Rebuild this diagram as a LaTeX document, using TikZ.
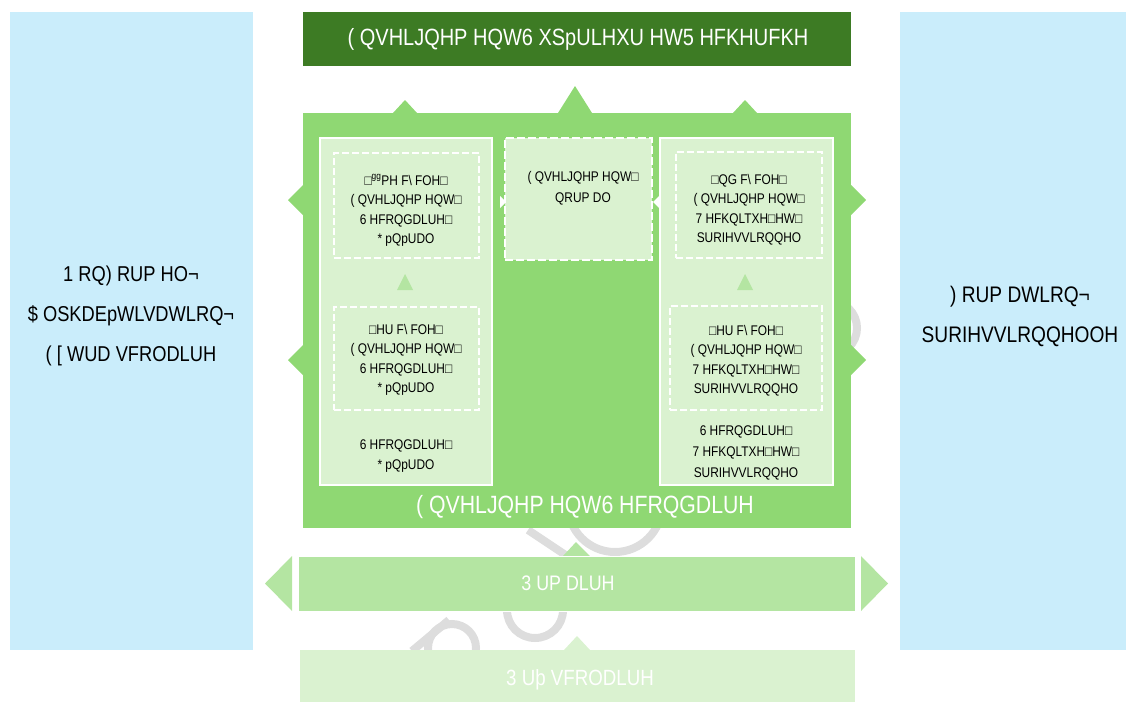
\documentclass[tikz,border=0pt]{standalone}
\usepackage{fontspec}
\setmainfont{Liberation Sans}[FakeStretch=0.85]
\definecolor{lblue}{RGB}{202,237,251}
\definecolor{dgreen}{RGB}{61,123,36}
\definecolor{mgreen}{RGB}{143,216,115}
\definecolor{pgreen}{RGB}{180,229,162}
\definecolor{lgreen}{RGB}{218,242,208}
\definecolor{wmark}{RGB}{221,221,221}
\begin{document}
\begin{tikzpicture}[x=1pt,y=-1pt,
  rbox/.style={inner sep=0pt, outer sep=0pt, draw=none},
  colbox/.style={rbox, fill=lgreen, draw=white, line width=1.5pt},
  dbox/.style={rbox, draw=white, line width=1.5pt, dash pattern=on 7pt off 3pt},
  big/.style={font=\fontsize{21.5}{40}\selectfont, align=center},
  small/.style={font=\fontsize{14}{19.5}\selectfont, align=center, text=black},
  wm/.style={draw=wmark, line width=8pt}]
\useasboundingbox (0,0) rectangle (1126,702);
% watermark
\draw[wm] (528,530) -- (567,556);
\draw[wm] (615,505) circle (47);
\draw[wm] (412,651) -- (449,620);
\draw[wm] (452,648) circle (24);
\draw[wm] (535,610) circle (28);
\draw[wm] (830,328) circle (27);
% side blue boxes
\node[rbox, fill=lblue, minimum width=243, minimum height=638] (lb) at (131.5,331) {};
\node[big] (lbt) at (131,316) {1 RQ) RUP HO¬\\\$ OSKDEpWLVDWLRQ¬\\( [ WUD VFRODLUH};
\node[rbox, fill=lblue, minimum width=226, minimum height=638] (rb) at (1013,331) {};
\node[big, font=\fontsize{22.5}{40}\selectfont] (rbt) at (1020,316) {) RUP DWLRQ¬\\SURIHVVLRQQHOOH};
% title
\node[rbox, fill=dgreen, minimum width=548, minimum height=54] (top) at (577,39) {};
\node[big, text=white, font=\fontsize{23.5}{28}\selectfont] (topt) at (578,39) {( QVHLJQHP HQW6 XSpULHXU HW5 HFKHUFKH};
% main box and its arrows
\fill[mgreen] (393,113) -- (405,100) -- (417,113) -- cycle;
\fill[mgreen] (558,113) -- (575,86) -- (592,113) -- cycle;
\fill[mgreen] (733,113) -- (745,100) -- (757,113) -- cycle;
\fill[mgreen] (303,185) -- (288,200) -- (303,215) -- cycle;
\fill[mgreen] (303,345) -- (288,360) -- (303,375) -- cycle;
\fill[mgreen] (851,185) -- (866,200) -- (851,215) -- cycle;
\fill[mgreen] (851,345) -- (866,360) -- (851,375) -- cycle;
\node[rbox, fill=mgreen, minimum width=548, minimum height=415] (main) at (577,320.5) {};
\node[big, text=white, font=\fontsize{25}{28}\selectfont] (maint) at (585,507) {( QVHLJQHP HQW6 HFRQGDLUH};
% columns
\node[colbox, minimum width=172, minimum height=347] (lc) at (406,311.5) {};
\node[colbox, minimum width=173, minimum height=347] (rc) at (746.5,311.5) {};
\node[rbox, fill=lgreen, draw=white, line width=2.5pt, dash pattern=on 8pt off 3pt, minimum width=147, minimum height=122] (mc) at (578.5,199) {};
\fill[white] (500,196) -- (506,202) -- (500,208) -- cycle;
\fill[white] (659,196) -- (653,202) -- (659,208) -- cycle;
\node[dbox, minimum width=145, minimum height=105] (lt) at (406.5,205.5) {};
\node[dbox, minimum width=145, minimum height=103] (lbx) at (406.5,358.5) {};
\node[dbox, minimum width=146, minimum height=106] (rt) at (749,205) {};
\node[dbox, minimum width=152, minimum height=104] (rbx) at (746,358) {};
\fill[pgreen] (397,290) -- (405,274) -- (413,290) -- cycle;
\fill[pgreen] (737,290) -- (745,274) -- (753,290) -- cycle;
% small texts
\node[small] (ltt) at (406,210.5) {□\textsuperscript{gg}PH F\textbackslash{} FOH□\\( QVHLJQHP HQW□\\6 HFRQGDLUH□\\* pQpUDO};
\node[small] (lbt2) at (406,360) {□HU F\textbackslash{} FOH□\\( QVHLJQHP HQW□\\6 HFRQGDLUH□\\* pQpUDO};
\node[small] (lct) at (406,456) {6 HFRQGDLUH□\\* pQpUDO};
\node[small, font=\fontsize{14}{21}\selectfont] (mct) at (583,188.5) {( QVHLJQHP HQW□\\QRUP DO};
\node[small] (rtt) at (749,209.5) {□QG F\textbackslash{} FOH□\\( QVHLJQHP HQW□\\7 HFKQLTXH□HW□\\SURIHVVLRQQHO};
\node[small] (rbt2) at (746,360.5) {□HU F\textbackslash{} FOH□\\( QVHLJQHP HQW□\\7 HFKQLTXH□HW□\\SURIHVVLRQQHO};
\node[small, font=\fontsize{14}{21}\selectfont] (rct) at (746,453) {6 HFRQGDLUH□\\7 HFKQLTXH□HW□\\SURIHVVLRQQHO};
% primaire
\fill[pgreen] (292,556) -- (265,583.5) -- (292,611) -- cycle;
\fill[pgreen] (861,556) -- (888,583.5) -- (861,611) -- cycle;
\fill[pgreen] (563,556) -- (576,542) -- (590,556) -- cycle;
\node[rbox, fill=pgreen, draw=white, line width=1pt, minimum width=557, minimum height=55] (prim) at (576.5,583.5) {};
\node[big, text=white, font=\fontsize{21}{26}\selectfont] (primt) at (568,583) {3 UP DLUH};
% pre-scolaire
\fill[lgreen] (564,650) -- (577,636) -- (590,650) -- cycle;
\node[rbox, fill=lgreen, minimum width=555, minimum height=52] (pre) at (577.5,676) {};
\node[big, text=white, font=\fontsize{22}{26}\selectfont] (pret) at (580,680) {3 Uþ VFRODLUH};
\end{tikzpicture}
\end{document}
